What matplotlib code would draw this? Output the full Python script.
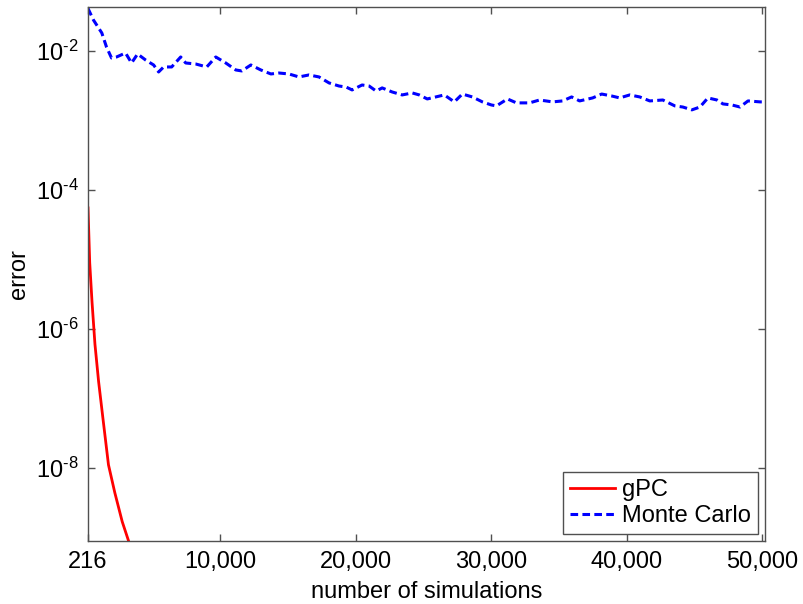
import matplotlib
matplotlib.use("Agg")
import matplotlib.pyplot as plt
from matplotlib.ticker import FixedLocator, FixedFormatter

# ---------------- data ----------------
gpc_n = [216, 343, 512, 729, 1000, 1331, 1728, 2197, 2744, 3375]
gpc_err = [5.5e-5, 8.9e-6, 2.45e-6, 6.0e-7, 1.73e-7, 4.9e-8, 1.1e-8, 4.36e-9, 1.67e-9, 7.06e-10]

mc_n = [216, 620, 1235, 1583, 1953, 2323, 2989, 3433, 3878, 4470,
        5062, 5432, 5802, 6395, 7061, 7431, 8171, 8986, 9652, 10392,
        11133, 11577, 12243, 12983, 13724, 14316, 15056, 15797, 16537, 17277,
        18017, 18758, 19276, 19720, 20460, 20979, 21497, 21941, 22681, 23422,
        24162, 24680, 25272, 26531, 27271, 27864, 28604, 29344, 30010, 30381,
        31195, 31861, 32824, 33564, 34526, 35266, 35933, 36525, 37487, 38154,
        38894, 39486, 40226, 40966, 41707, 42670, 43558, 44150, 44816, 45409,
        46001, 46667, 47111, 47777, 48370, 48962, 49850, 50216]
mc_err = [0.041, 0.0279, 0.0182, 0.0114, 0.00793, 0.0082, 0.00936, 0.00672, 0.00906, 0.00742,
          0.00629, 0.00499, 0.00589, 0.00589, 0.0082, 0.00672, 0.0065, 0.00589, 0.0082, 0.00672,
          0.00533, 0.00516, 0.00629, 0.00533, 0.00467, 0.00482, 0.00467, 0.00423, 0.00452, 0.00423,
          0.00347, 0.00313, 0.00303, 0.00275, 0.00324, 0.00313, 0.00265, 0.00294, 0.00257, 0.00233,
          0.00249, 0.00233, 0.00204, 0.00233, 0.00185, 0.0024, 0.00218, 0.00185, 0.00167, 0.00162,
          0.00204, 0.00179, 0.00179, 0.00197, 0.00185, 0.00191, 0.00218, 0.00191, 0.00211, 0.0024,
          0.00225, 0.00211, 0.00233, 0.00218, 0.00191, 0.00197, 0.00162, 0.00156, 0.00142, 0.00156,
          0.00211, 0.00197, 0.00173, 0.00167, 0.00156, 0.00191, 0.00185, 0.00185]

x_ticks = [216, 10000, 20000, 30000, 40000, 50000]
x_ticklabels = ["216", "10,000", "20,000", "30,000", "40,000", "50,000"]
y_ticks = [1e-8, 1e-6, 1e-4, 1e-2]
y_ticklabels = [r"$10^{\text{-8}}$", r"$10^{\text{-6}}$", r"$10^{\text{-4}}$", r"$10^{\text{-2}}$"]

# ---------------- style ----------------
plt.rcParams['font.family'] = ['Liberation Sans', 'DejaVu Sans']
plt.rcParams['mathtext.fontset'] = 'custom'
plt.rcParams['mathtext.rm'] = 'Liberation Sans'
plt.rcParams['mathtext.it'] = 'Liberation Sans:italic'
plt.rcParams['mathtext.bf'] = 'Liberation Sans:bold'
plt.rcParams['mathtext.default'] = 'rm'

FS = 17
axcol = '#505050'

fig = plt.figure(figsize=(8.04, 6.04), dpi=100)
ax = fig.add_axes([88/804, 1-541/604, (765-88)/804, (541-7)/604])

ax.plot(gpc_n, gpc_err, color='#ff0000', lw=2.0, label='gPC')
ax.plot(mc_n, mc_err, color='#0000ff', lw=2.2, linestyle=(0, (2.5, 1.4)), label='Monte Carlo')

ax.set_yscale('log')
ax.set_xlim(216, 50216)
ax.set_ylim(8.8e-10, 0.043)

ax.xaxis.set_major_locator(FixedLocator(x_ticks))
ax.xaxis.set_major_formatter(FixedFormatter(x_ticklabels))
ax.yaxis.set_major_locator(FixedLocator(y_ticks))
ax.yaxis.set_major_formatter(FixedFormatter(y_ticklabels))
ax.yaxis.set_minor_locator(FixedLocator([]))
ax.xaxis.set_minor_locator(FixedLocator([]))

ax.tick_params(axis='both', which='major', direction='in', length=5, width=1,
               color=axcol, labelsize=FS, top=True, right=True)
ax.tick_params(axis='x', pad=7)
ax.tick_params(axis='y', pad=7)
for s in ax.spines.values():
    s.set_color(axcol)
    s.set_linewidth(1)

ax.set_xlabel('number of simulations', fontsize=FS, labelpad=6)
ax.set_ylabel('error', fontsize=FS)
ax.yaxis.set_label_coords(-0.085, 0.5)

leg = ax.legend(loc='lower right', fontsize=FS, frameon=True, fancybox=False,
                framealpha=1, edgecolor=axcol, handlelength=1.9,
                handletextpad=0.3, borderaxespad=0.3, labelspacing=0.15,
                borderpad=0.3)
leg.get_frame().set_linewidth(1)

fig.savefig('out.png', dpi=100)
